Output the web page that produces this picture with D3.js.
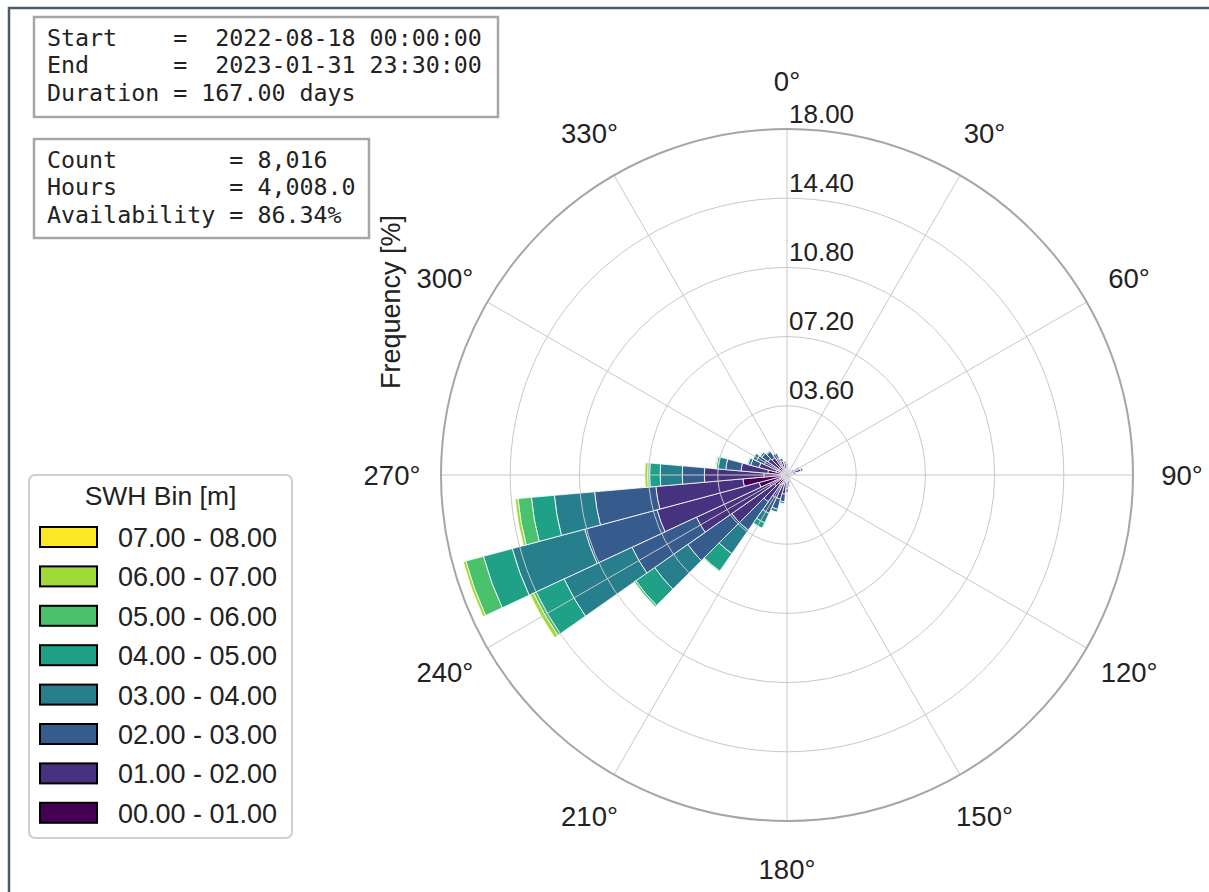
<!DOCTYPE html>
<meta charset="utf-8">
<title>SWH rose</title>
<style>
  body { margin: 0; background: #fff; }
  svg text { font-family: "Liberation Sans", Arial, sans-serif; fill: #222; }
  svg text.mono { font-family: "DejaVu Sans Mono", monospace; white-space: pre; }
</style>
<svg id="chart" width="1209" height="892"></svg>
<script src="https://cdn.jsdelivr.net/npm/d3@7/dist/d3.min.js"></script>
<script>

// direction sectors (deg, centre of each 10 deg sector)
var directions = d3.range(0, 360, 10);

var binLabels = ["00.00 - 01.00", "01.00 - 02.00", "02.00 - 03.00", "03.00 - 04.00",
                 "04.00 - 05.00", "05.00 - 06.00", "06.00 - 07.00", "07.00 - 08.00"];

// frequency [%] per SWH bin, one value per direction 0..350
var bin0 = [0.25,0.15,0.15,0.15,0.15,0.2,0.2,0.3,0.2,0.15,0.1,0.1,0.1,0.1,0.1,0.15,0.2,0.2,
            0.3,0.4,0.5,0.5,0.6,0.8,1.0,1.5,2.3,1.2,1.0,0.6,0.5,0.5,0.5,0.4,0.35,0.3];
var bin1 = [0.25,0.2,0.15,0.15,0.15,0.2,0.4,0.45,0.25,0.15,0.1,0.1,0.1,0.1,0.1,0.15,0.2,0.3,
            0.4,0.6,0.8,0.8,1.1,2.7,4.2,5.5,4.55,3.1,1.4,0.9,0.8,0.7,0.6,0.55,0.4,0.3];
var bin2 = [0.1,0.05,0,0,0,0,0.1,0.1,0.05,0,0,0,0,0,0,0,0,0.1,
            0.2,0.4,0.55,0.9,1.8,2.8,3.7,3.9,3.2,1.15,0.8,0.45,0.45,0.4,0.4,0.3,0.15,0.1];
var bin3 = [0,0,0,0,0,0,0,0,0,0,0,0,0,0,0,0,0,0,
            0,0.1,0.15,0.55,1.5,2.1,3.9,3.9,2.1,1.15,0.4,0.15,0.2,0.1,0.05,0,0,0];
var bin4 = [0,0,0,0,0,0,0,0,0,0,0,0,0,0,0,0,0,0,
            0,0,0,0.3,1.1,1.2,1.6,1.55,1.2,0.55,0.1,0.05,0,0,0,0,0,0];
var bin5 = [0,0,0,0,0,0,0,0,0,0,0,0,0,0,0,0,0,0,
            0,0,0,0,0.05,0.1,0.15,0.95,0.7,0.1,0.05,0,0,0,0,0,0,0];
var bin6 = [0,0,0,0,0,0,0,0,0,0,0,0,0,0,0,0,0,0,
            0,0,0,0,0,0,0.2,0.15,0.15,0.15,0.05,0,0,0,0,0,0,0];
var bin7 = [0,0,0,0,0,0,0,0,0,0,0,0,0,0,0,0,0,0,
            0,0,0,0,0,0,0,0.04,0,0,0,0,0,0,0,0,0,0];

var rTicks = [3.6, 7.2, 10.8, 14.4, 18];
var angleTicks = d3.range(0, 360, 30);

var infoTop = ["Start    =  2022-08-18 00:00:00",
               "End      =  2023-01-31 23:30:00",
               "Duration = 167.00 days"];
var infoBottom = ["Count        = 8,016",
                  "Hours        = 4,008.0",
                  "Availability = 86.34%"];

var bins = [bin0, bin1, bin2, bin3, bin4, bin5, bin6, bin7];
var keys = bins.map(function(b, i) { return "b" + i; });

var rows = directions.map(function(d, j) {
  var row = {dir: d};
  bins.forEach(function(b, i) { row["b" + i] = b[j]; });
  return row;
});

var svg = d3.select("#chart");

var cx = 787, cy = 475, R = 346;
var toRad = Math.PI / 180;

var r = d3.scaleLinear().domain([0, 18]).range([0, R]);
var color = d3.scaleOrdinal().domain(keys)
  .range(keys.map(function(k, i) { return d3.interpolateViridis(i / 7); }));

// frame
svg.append("path")
  .attr("d", "M9,892V8H1209")
  .attr("fill", "none")
  .attr("stroke", "#4b5a6f")
  .attr("stroke-width", 2.5);

var g = svg.append("g").attr("transform", "translate(" + cx + "," + cy + ")");

// bars
var series = d3.stack().keys(keys)(rows);

var arc = d3.arc()
  .innerRadius(function(d) { return r(d[0]); })
  .outerRadius(function(d) { return r(d[1]); })
  .startAngle(function(d) { return (d.data.dir - 5) * toRad; })
  .endAngle(function(d) { return (d.data.dir + 5) * toRad; });

g.selectAll("g.layer")
  .data(series)
  .enter().append("g")
    .attr("class", "layer")
    .attr("fill", function(s) { return color(s.key); })
  .selectAll("path")
  .data(function(s) { return s.filter(function(d) { return d[1] - d[0] > 0; }); })
  .enter().append("path")
    .attr("d", arc)
    .attr("stroke", "#fff")
    .attr("stroke-width", 0.8);

// grid on top
g.selectAll("line.spoke")
  .data(angleTicks)
  .enter().append("line")
    .attr("class", "spoke")
    .attr("x1", 0).attr("y1", 0)
    .attr("x2", function(a) { return R * Math.sin(a * toRad); })
    .attr("y2", function(a) { return -R * Math.cos(a * toRad); })
    .attr("stroke", "#c8c8c8")
    .attr("stroke-width", 1);

g.selectAll("circle.ring")
  .data(rTicks)
  .enter().append("circle")
    .attr("class", "ring")
    .attr("r", function(t) { return r(t); })
    .attr("fill", "none")
    .attr("stroke", function(t) { return t === 18 ? "#a6a6a6" : "#c8c8c8"; })
    .attr("stroke-width", function(t) { return t === 18 ? 2 : 1; });

// radial labels
g.selectAll("text.rlab")
  .data(rTicks)
  .enter().append("text")
    .attr("class", "rlab")
    .attr("x", 2)
    .attr("y", function(t) { return -r(t) - 6.5; })
    .style("font-size", "26px")
    .text(d3.format("05.2f"));

// angle labels
g.selectAll("text.alab")
  .data(angleTicks)
  .enter().append("text")
    .attr("class", "alab")
    .attr("x", function(a) { return (R + 49) * Math.sin(a * toRad); })
    .attr("y", function(a) { return -(R + 48) * Math.cos(a * toRad); })
    .attr("text-anchor", "middle")
    .attr("dominant-baseline", "central")
    .style("font-size", "27.5px")
    .text(function(a) { return a + "°"; });

// y label
svg.append("text")
  .attr("transform", "translate(391,302) rotate(-90)")
  .attr("text-anchor", "middle")
  .attr("dominant-baseline", "central")
  .style("font-size", "27px")
  .text("Frequency [%]");

// info boxes
function infoBox(x, y, w, h, lines, y0) {
  svg.append("rect")
    .attr("x", x).attr("y", y).attr("width", w).attr("height", h)
    .attr("fill", "#fff")
    .attr("stroke", "#a6a6a6")
    .attr("stroke-width", 2.5);
  svg.selectAll(null)
    .data(lines)
    .enter().append("text")
      .attr("class", "mono")
      .attr("xml:space", "preserve")
      .attr("x", x + 13)
      .attr("y", function(d, i) { return y0 + i * 27.3; })
      .style("font-size", "23.3px")
      .text(function(d) { return d; });
}
infoBox(34, 17, 464, 100, infoTop, 46);
infoBox(34, 139, 335, 99, infoBottom, 168);

// legend
var leg = svg.append("g");
leg.append("rect")
  .attr("x", 29).attr("y", 475).attr("width", 263).attr("height", 363)
  .attr("rx", 6)
  .attr("fill", "#fff")
  .attr("stroke", "#cfcfcf")
  .attr("stroke-width", 2);
leg.append("text")
  .attr("x", 160.5).attr("y", 505)
  .attr("text-anchor", "middle")
  .style("font-size", "26.5px")
  .text("SWH Bin [m]");

var legendKeys = keys.slice().reverse();
var item = leg.selectAll("g.item")
  .data(legendKeys)
  .enter().append("g")
    .attr("class", "item")
    .attr("transform", function(k, i) { return "translate(0," + (537 + i * 39.4) + ")"; });
item.append("rect")
  .attr("x", 40).attr("y", -10).attr("width", 57).attr("height", 20)
  .attr("fill", function(k) { return color(k); })
  .attr("stroke", "#000")
  .attr("stroke-width", 2);
item.append("text")
  .attr("x", 118).attr("y", 1)
  .attr("dominant-baseline", "central")
  .style("font-size", "27px")
  .text(function(k) { return binLabels[keys.indexOf(k)]; });
</script>
